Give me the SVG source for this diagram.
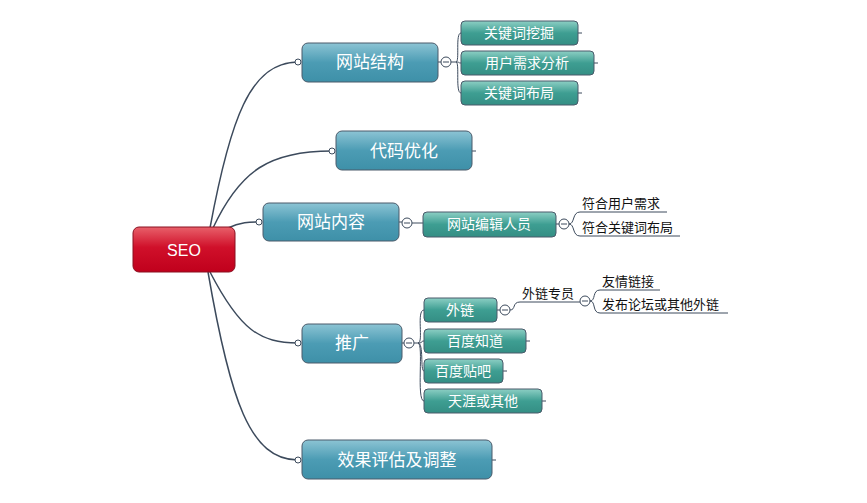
<svg xmlns="http://www.w3.org/2000/svg" width="867" height="503" viewBox="0 0 867 503">
<defs>
<linearGradient id="gr" x1="0" y1="0" x2="0" y2="1"><stop offset="0" stop-color="#e8606a"/><stop offset="0.45" stop-color="#d0102a"/><stop offset="1" stop-color="#c0001c"/></linearGradient>
<linearGradient id="gb" x1="0" y1="0" x2="0" y2="1"><stop offset="0" stop-color="#8cc4d4"/><stop offset="0.5" stop-color="#4c9cb4"/><stop offset="1" stop-color="#3e90a8"/></linearGradient>
<linearGradient id="gt" x1="0" y1="0" x2="0" y2="1"><stop offset="0" stop-color="#8ccfc4"/><stop offset="0.5" stop-color="#3e9e92"/><stop offset="1" stop-color="#348e84"/></linearGradient>
</defs>
<style>
.l{fill:none;stroke:#3c4a5c;stroke-width:1.5}
.s{fill:none;stroke:#3c4a5c;stroke-width:1}
.b{fill:url(#gb);stroke:#4a5a6a;stroke-width:1}
.t{fill:url(#gt);stroke:#4a5a6a;stroke-width:1}
.w{fill:#fff;font-family:"Noto Sans CJK SC",sans-serif;text-anchor:middle}
.k{fill:#111;font-family:"Noto Sans CJK SC",sans-serif;font-size:13px}
.c{fill:#fff;stroke:#3c4a5c;stroke-width:1}
.d{fill:#fff;stroke:#3c4a5c;stroke-width:1}
</style>
<rect width="867" height="503" fill="#fff"/>
<g id="connectors">
<path class="l" d="M210,228 C230,120 250,62 298,62"/>
<path class="l" d="M213,228 C240,170 270,151 332,151"/>
<path class="l" d="M228,228 C240,222 250,222 259,222"/>
<path class="l" d="M210,272 C240,330 260,343 298,343"/>
<path class="l" d="M208,272 C230,400 250,460 298,460"/>
<path class="s" d="M438,62 H441 M451,62 H456 C460,62 455,33 461,33 M456,62 C460,62 458,63 461,63 M456,62 C460,62 455,93 461,93"/>
<path class="s" d="M578,33 H582 M594,63 H598 M578,93 H582 M472,151 H476 M492,460 H496"/>
<path class="s" d="M399,222 H402 M412,223 H423"/>
<path class="s" d="M556,224 H559 M569,224 C575,224 572,212 580,212 H667 M569,224 C575,224 572,236 580,236 H680"/>
<path class="s" d="M402,343 H404 M414,343 H418 C424,343 416,310 424,310 M418,343 C424,343 420,341 424,341 M418,343 C424,343 420,371 424,371 M418,343 C424,343 416,401 424,401"/>
<path class="s" d="M526,341 H530 M503,371 H507 M542,401 H546"/>
<path class="s" d="M497,310 H500 M510,310 C516,310 512,302 520,302 H580 M590,301 C596,301 592,290 600,290 H660 M590,301 C596,301 592,313 600,313 H728"/>
<circle class="d" cx="298" cy="62" r="3"/><circle class="d" cx="332" cy="151" r="3"/><circle class="d" cx="259" cy="222" r="3"/><circle class="d" cx="298" cy="343" r="3"/><circle class="d" cx="298" cy="460" r="3"/>
<g><circle class="c" cx="446" cy="62" r="5"/><path class="s" d="M443,62 H449"/></g>
<g><circle class="c" cx="407" cy="223" r="5"/><path class="s" d="M404,223 H410"/></g>
<g><circle class="c" cx="564" cy="224" r="5"/><path class="s" d="M561,224 H567"/></g>
<g><circle class="c" cx="409" cy="343" r="5"/><path class="s" d="M406,343 H412"/></g>
<g><circle class="c" cx="505" cy="310" r="5"/><path class="s" d="M502,310 H508"/></g>
<g><circle class="c" cx="585" cy="301" r="5"/><path class="s" d="M582,301 H588"/></g>
</g>
<g id="seo"><rect x="133" y="227" width="102" height="45" rx="6" fill="url(#gr)" stroke="#8a1020"/><text x="184" y="256" fill="#fff" font-family="Liberation Sans,sans-serif" font-size="16" text-anchor="middle">SEO</text></g>
<g id="n1"><rect class="b" x="302" y="43" width="136" height="39" rx="6"/><text class="w" x="370" y="68" font-size="17">网站结构</text></g>
<g id="n2"><rect class="b" x="336" y="131" width="136" height="39" rx="6"/><text class="w" x="404" y="157" font-size="17">代码优化</text></g>
<g id="n3"><rect class="b" x="263" y="203" width="136" height="38" rx="6"/><text class="w" x="331" y="228" font-size="17">网站内容</text></g>
<g id="n4"><rect class="b" x="302" y="324" width="100" height="39" rx="6"/><text class="w" x="352" y="349" font-size="17">推广</text></g>
<g id="n5"><rect class="b" x="302" y="440" width="190" height="39" rx="6"/><text class="w" x="397" y="466" font-size="17">效果评估及调整</text></g>
<g id="n1a"><rect class="t" x="461" y="21" width="117" height="24" rx="4"/><text class="w" x="519" y="38" font-size="14">关键词挖掘</text></g>
<g id="n1b"><rect class="t" x="461" y="51" width="133" height="24" rx="4"/><text class="w" x="527" y="68" font-size="14">用户需求分析</text></g>
<g id="n1c"><rect class="t" x="461" y="81" width="117" height="24" rx="4"/><text class="w" x="519" y="98" font-size="14">关键词布局</text></g>
<g id="n3a"><rect class="t" x="423" y="212" width="133" height="25" rx="4"/><text class="w" x="489" y="229" font-size="14">网站编辑人员</text></g>
<g id="n3a1"><text class="k" x="582" y="208">符合用户需求</text></g>
<g id="n3a2"><text class="k" x="582" y="232">符合关键词布局</text></g>
<g id="n4a"><rect class="t" x="424" y="298" width="73" height="24" rx="4"/><text class="w" x="460" y="315" font-size="14">外链</text></g>
<g id="n4b"><rect class="t" x="424" y="329" width="102" height="24" rx="4"/><text class="w" x="475" y="346" font-size="14">百度知道</text></g>
<g id="n4c"><rect class="t" x="424" y="359" width="79" height="24" rx="4"/><text class="w" x="463" y="376" font-size="14">百度贴吧</text></g>
<g id="n4d"><rect class="t" x="424" y="389" width="118" height="24" rx="4"/><text class="w" x="483" y="406" font-size="14">天涯或其他</text></g>
<g id="n4a1"><text class="k" x="522" y="298">外链专员</text></g>
<g id="n4a1a"><text class="k" x="602" y="286">友情链接</text></g>
<g id="n4a1b"><text class="k" x="602" y="309">发布论坛或其他外链</text></g>
</svg>
